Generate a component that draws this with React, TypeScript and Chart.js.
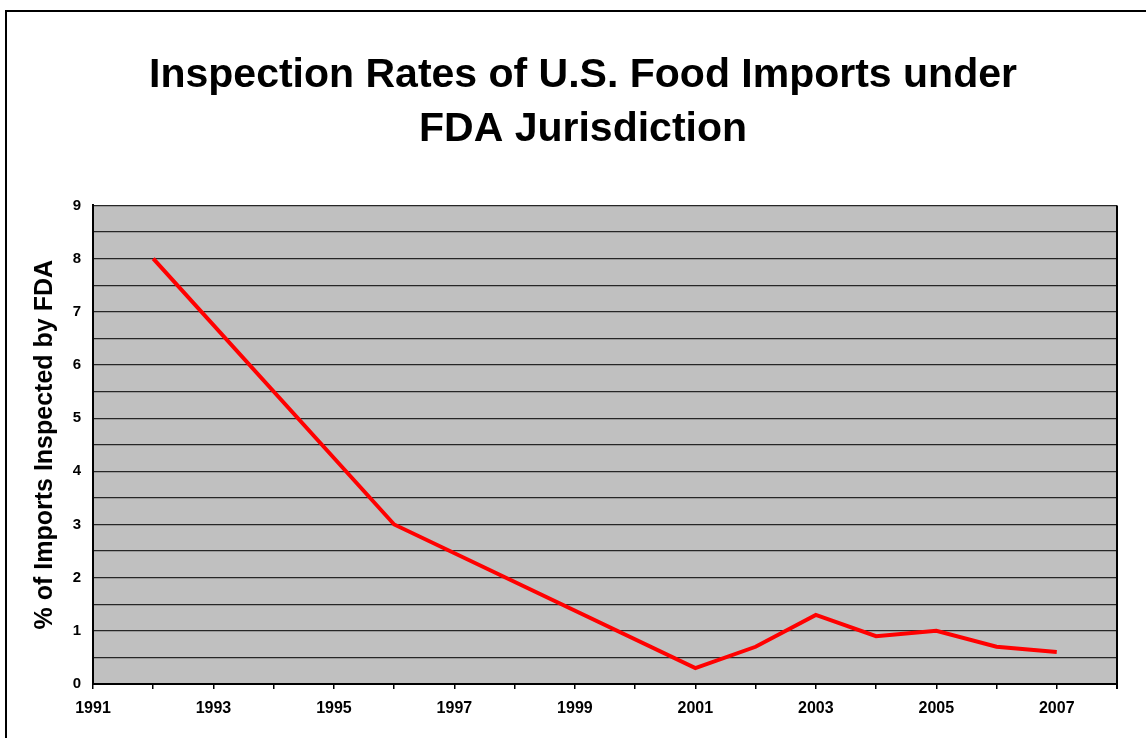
import React, { useEffect, useRef } from "react";
import { Chart, registerables } from "chart.js";

Chart.register(...registerables);

const titleLines = ["Inspection Rates of U.S. Food Imports under", "FDA Jurisdiction"];
const yAxisTitle = "% of Imports Inspected by FDA";
const years = [1992, 1996, 2001, 2002, 2003, 2004, 2005, 2006, 2007];
const rates = [8.0, 3.0, 0.3, 0.7, 1.3, 0.9, 1.0, 0.7, 0.6];
const xMin = 1991;
const xMax = 2008;
const yMin = 0;
const yMax = 9;

const FONT = "'Liberation Sans', Arial, Helvetica, sans-serif";

const framePlugin = {
  id: "frame",
  beforeDraw(chart: any) {
    const { ctx, chartArea } = chart;
    ctx.save();
    ctx.fillStyle = "#ffffff";
    ctx.fillRect(0, 0, chart.width, chart.height);
    ctx.strokeStyle = "#000000";
    ctx.lineWidth = 2;
    ctx.strokeRect(6, 11, chart.width + 20, chart.height + 20);
    ctx.fillStyle = "#c0c0c0";
    ctx.fillRect(chartArea.left, chartArea.top, chartArea.right - chartArea.left, chartArea.bottom - chartArea.top);
    ctx.restore();
  },
  afterDatasetsDraw(chart: any) {
    const { ctx, chartArea } = chart;
    ctx.save();
    ctx.strokeStyle = "#000000";
    ctx.lineWidth = 2;
    ctx.beginPath();
    ctx.moveTo(chartArea.right, chartArea.top);
    ctx.lineTo(chartArea.right, chartArea.bottom + 5);
    ctx.stroke();
    ctx.restore();
  },
};

export default function App() {
  const ref = useRef<HTMLCanvasElement | null>(null);
  useEffect(() => {
    if (!ref.current) return;
    const chart = new Chart(ref.current, {
      type: "line",
      data: {
        datasets: [
          {
            data: years.map((x, i) => ({ x, y: rates[i] })),
            borderColor: "#ff0000",
            borderWidth: 4,
            pointRadius: 0,
            tension: 0,
            fill: false,
          },
        ],
      },
      options: {
        responsive: false,
        animation: false,
        events: [],
        layout: { padding: { left: 49, right: 29, top: 0, bottom: 0 } },
        plugins: {
          legend: { display: false },
          tooltip: { enabled: false },
          title: {
            display: true,
            text: titleLines,
            color: "#000000",
            font: { family: FONT, size: 41, weight: "bold", lineHeight: 1.31 },
            padding: { top: 49, bottom: 49 },
          },
        },
        scales: {
          x: {
            type: "linear",
            min: xMin,
            max: xMax,
            afterFit: (s: any) => {
              s.height = 54;
            },
            afterBuildTicks: (s: any) => {
              const t = [];
              for (let v = xMin; v <= xMax; v++) t.push({ value: v });
              s.ticks = t;
            },
            ticks: {
              autoSkip: false,
              maxRotation: 0,
              padding: 10,
              color: "#000000",
              font: { family: FONT, size: 16, weight: "bold" },
              callback: (v: any) => ((Number(v) - xMin) % 2 === 0 && Number(v) < xMax ? String(v) : ""),
            },
            grid: {
              drawOnChartArea: false,
              drawTicks: true,
              tickLength: 5,
              color: "#000000",
              lineWidth: 1.5,
            },
            border: { display: true, color: "#000000", width: 2 },
          },
          y: {
            min: yMin,
            max: yMax,
            afterFit: (s: any) => {
              s.width = 44;
            },
            ticks: {
              stepSize: 0.5,
              autoSkip: false,
              padding: 12,
              color: "#000000",
              font: { family: FONT, size: 15, weight: "bold" },
              callback: (v: any) => (Number.isInteger(Number(v)) ? String(v) : ""),
            },
            grid: {
              drawTicks: false,
              color: "#262626",
              lineWidth: 1.2,
            },
            border: { display: true, color: "#000000", width: 2 },
            title: {
              display: true,
              text: yAxisTitle,
              color: "#000000",
              font: { family: FONT, size: 25, weight: "bold" },
              padding: { top: -19, bottom: 0 },
            },
          },
        },
      },
      plugins: [framePlugin],
    });
    return () => chart.destroy();
  }, []);
  return (
    <div style={{ position: "fixed", left: 0, top: 0, width: 1146, height: 738, background: "#fff" }}>
      <canvas ref={ref} width={1146} height={738} style={{ display: "block", width: 1146, height: 738 }} />
    </div>
  );
}
